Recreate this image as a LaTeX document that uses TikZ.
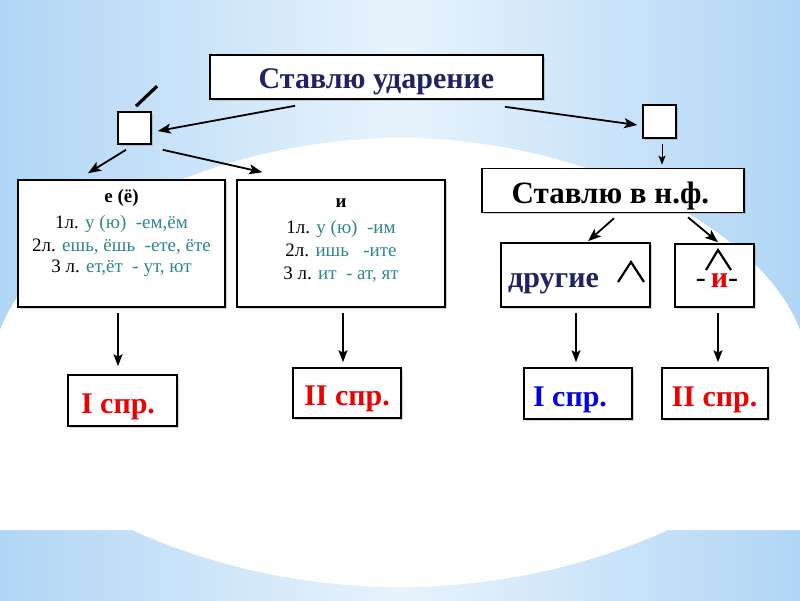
\documentclass[tikz,border=0pt]{standalone}
\usepackage{fontspec}
\setmainfont{Liberation Serif}
\usetikzlibrary{arrows.meta,calc,shadows}
\definecolor{navy}{RGB}{31,35,100}
\definecolor{tealtx}{RGB}{45,135,140}
\definecolor{bgb}{RGB}{176,214,246}
\definecolor{bgl}{RGB}{232,243,252}
\definecolor{redtx}{RGB}{238,0,0}
\definecolor{bluetx}{RGB}{0,0,230}
\begin{document}
\begin{tikzpicture}[x=1pt,y=-1pt,
  box/.style={draw=black, line width=1.6pt, fill=white, inner sep=0pt,
    drop shadow={shadow xshift=1.5pt, shadow yshift=-1.5pt, opacity=0.35}},
  big/.style={font=\fontsize{30}{35}\selectfont\bfseries, inner sep=0pt},
  small/.style={font=\fontsize{19}{23}\selectfont, inner sep=0pt},
  smallb/.style={font=\fontsize{19}{23}\selectfont\bfseries, inner sep=0pt},
  arr/.style={-{Stealth[length=13pt,width=10pt,inset=3pt]}, line width=1.8pt},
  darr/.style={-{Stealth[length=12pt,width=9pt,inset=2.5pt]}, line width=1.4pt},
  tarr/.style={-{Stealth[length=9pt,width=7pt,inset=2pt]}, line width=1pt},
  caret/.style={line width=2.2pt, line join=miter}]
\useasboundingbox (0,0) rectangle (800,600);
% background
\fill[left color=bgb, right color=bgb, middle color=bgl] (0,0) rectangle (800,600);
\fill[white] (0,330) .. controls (40,225) and (220,138) .. (400,138)
  .. controls (580,138) and (760,225) .. (800,330)
  -- (800,530) -- (668,530) .. controls (500,606) and (300,606) .. (132,530)
  -- (0,530) -- cycle;
% boxes
\node[box, minimum width=333pt, minimum height=44pt] (top) at (376.5,77) {};
\node[big, text=navy, anchor=base] (toptxt) at (376.5,88) {Ставлю ударение};
\node[box, minimum width=33pt, minimum height=32pt] (sl) at (134.5,128) {};
\node[box, minimum width=33pt, minimum height=33pt] (sr) at (659.5,121.5) {};
\node[box, minimum width=207pt, minimum height=127pt] (ebox) at (121.5,243.5) {};
\node[box, minimum width=208pt, minimum height=127pt] (ibox) at (341,243.5) {};
\node[box, minimum width=262pt, minimum height=44pt] (nf) at (613,190.5) {};
\node[big, font=\fontsize{31}{36}\selectfont\bfseries, anchor=base] (nftxt) at (610.5,203) {Ставлю в н.ф.};
\node[box, minimum width=149pt, minimum height=64pt] (drug) at (575.5,275) {};
\node[big, text=navy, anchor=base west] (drugtxt) at (508,287) {другие};
\node[box, minimum width=79pt, minimum height=63pt] (ibx) at (714.5,275.5) {};
\node[big, anchor=base] (ibxtxt) at (717,287) {\mdseries-\,\textcolor{redtx}{\bfseries и}-};
% text of the left box
\node[smallb, anchor=base] (e0) at (121.5,202) {е (ё)};
\node[small, anchor=base] (e1) at (121.5,228) {1л. \textcolor{tealtx}{у (ю)\ \ -ем,ём}};
\node[small, anchor=base] (e2) at (121.5,251) {2л. \textcolor{tealtx}{ешь, ёшь\ \ -ете, ёте}};
\node[small, anchor=base] (e3) at (121.5,272) {3 л. \textcolor{tealtx}{ет,ёт\ \ - ут, ют}};
% text of the middle box
\node[smallb, anchor=base] (i0) at (341,207) {и};
\node[small, anchor=base] (i1) at (341,233) {1л. \textcolor{tealtx}{у (ю)\ \ -им}};
\node[small, anchor=base] (i2) at (341,256) {2л. \textcolor{tealtx}{ишь\ \ \ -ите}};
\node[small, anchor=base] (i3) at (341,279) {3 л. \textcolor{tealtx}{ит\ \ - ат, ят}};
% result boxes
\node[box, minimum width=109pt, minimum height=51pt] (r1) at (122.5,400.5) {};
\node[big, text=redtx, anchor=base] (r1t) at (118,413) {I спр.};
\node[box, minimum width=108pt, minimum height=50pt] (r2) at (347,393) {};
\node[big, text=redtx, anchor=base] (r2t) at (347,405) {II спр.};
\node[box, minimum width=108pt, minimum height=51pt] (r3) at (578,393.5) {};
\node[big, text=bluetx, anchor=base] (r3t) at (570,406) {I спр.};
\node[box, minimum width=106pt, minimum height=51pt] (r4) at (715,393.5) {};
\node[big, text=redtx, anchor=base] (r4t) at (714.5,406) {II спр.};
% stress marks
\draw[line width=3.2pt] ($(sl.north)+(1.5,-5)$) -- ++(21,-20);
\draw[caret] ($(drug.center)+(42.5,7)$) -- ++(13,-20) -- ++(13,20);
\draw[caret] ($(ibx.center)+(-8.5,-5.5)$) -- ++(12,-20) -- ++(13,20);
% connectors
\draw[arr] ($(top.south)+(-81.5,6)$) -- ($(sl.east)+(6,3)$);
\draw[arr] ($(sl.south)+(-8.5,5)$) -- ($(ebox.north)+(-33.5,-6)$);
\draw[arr] ($(sl.south east)+(11,5)$) -- ($(ibox.north west)+(26,-7)$);
\draw[arr] ($(top.south)+(128.5,7)$) -- ($(sr.west)+(-5,3.5)$);
\draw[tarr] ($(sr.south)+(2.5,5)$) -- ($(nf.north)+(49,-3)$);
\draw[arr] ($(nf.south)+(1,5)$) -- ($(drug.north)+(12.5,-1)$);
\draw[arr] ($(nf.south)+(75,4)$) -- ($(ibx.north)+(3.5,-1)$);
\draw[darr] ($(ebox.south)+(-3.5,5)$) -- ($(r1.north)+(-4.5,-8)$);
\draw[darr] ($(ibox.south)+(2,5)$) -- ($(r2.north)+(-4,-5)$);
\draw[darr] ($(drug.south)+(0.5,5)$) -- ($(r3.north)+(-2,-5)$);
\draw[darr] ($(ibx.south)+(3.5,5)$) -- ($(r4.north)+(3,-5)$);
\end{tikzpicture}
\end{document}
